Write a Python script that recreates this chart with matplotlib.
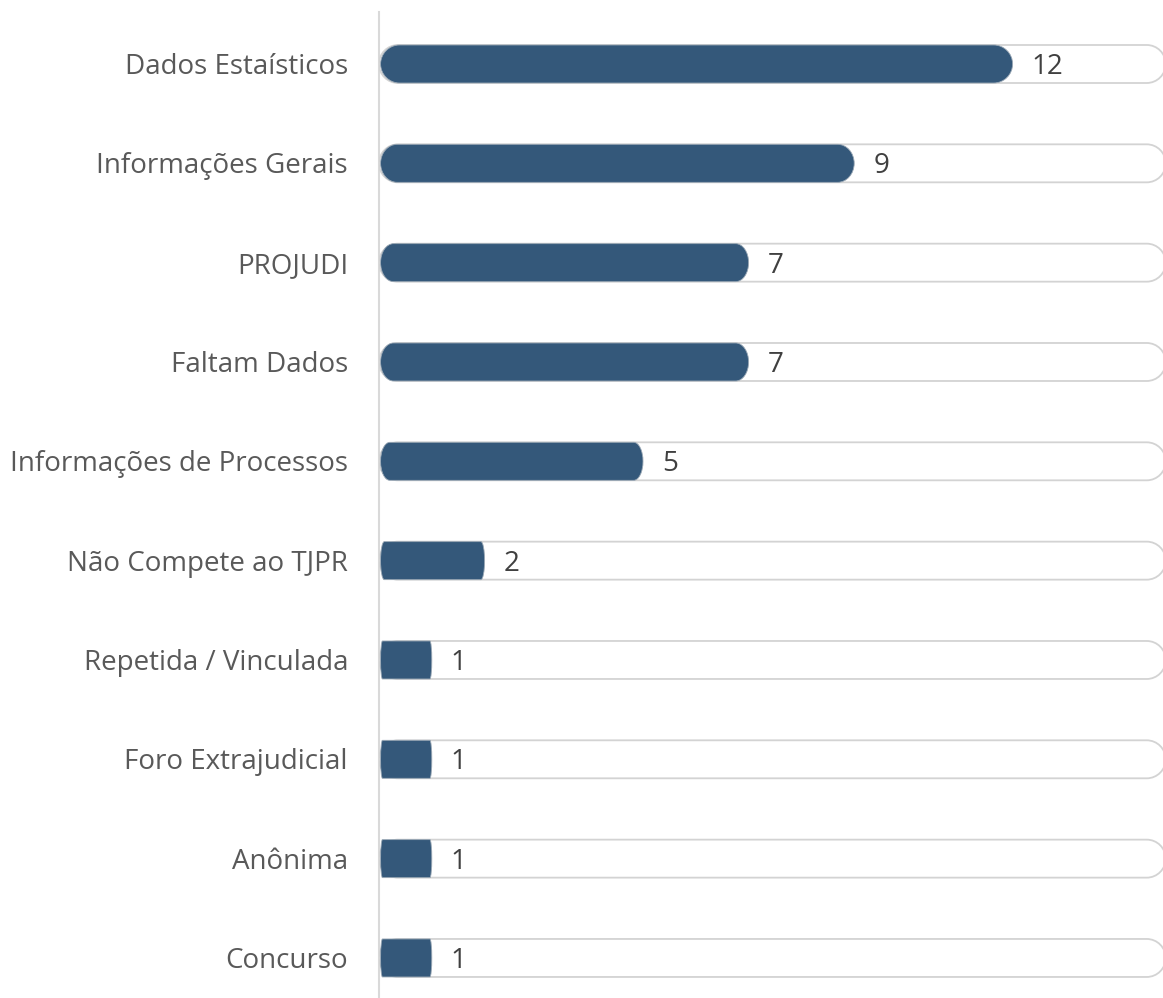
import matplotlib
matplotlib.use("Agg")
import matplotlib.pyplot as plt
from matplotlib.path import Path
from matplotlib.patches import PathPatch

categories = [
    "Dados Estaísticos", "Informações Gerais", "PROJUDI", "Faltam Dados",
    "Informações de Processos", "Não Compete ao TJPR", "Repetida / Vinculada",
    "Foro Extrajudicial", "Anônima", "Concurso",
]
values = [12, 9, 7, 7, 5, 2, 1, 1, 1, 1]
track_end = 14.9

C_BAR = "#34587A"
C_TRACK = "#D3D3D3"
C_LABEL = "#595959"
C_VALUE = "#404040"

plt.rcParams["font.family"] = ["Open Sans", "DejaVu Sans"]


def rounded_rect(x0, y0, w, h, rx, ry):
    k = 0.5523
    x1, y1 = x0 + w, y0 + h
    verts = [
        (x0 + rx, y0), (x1 - rx, y0),
        (x1 - rx + k * rx, y0), (x1, y0 + ry - k * ry), (x1, y0 + ry),
        (x1, y1 - ry),
        (x1, y1 - ry + k * ry), (x1 - rx + k * rx, y1), (x1 - rx, y1),
        (x0 + rx, y1),
        (x0 + rx - k * rx, y1), (x0, y1 - ry + k * ry), (x0, y1 - ry),
        (x0, y0 + ry),
        (x0, y0 + ry - k * ry), (x0 + rx - k * rx, y0), (x0 + rx, y0),
        (x0 + rx, y0),
    ]
    codes = ([Path.MOVETO, Path.LINETO] + [Path.CURVE4] * 3 + [Path.LINETO]
             + [Path.CURVE4] * 3 + [Path.LINETO] + [Path.CURVE4] * 3
             + [Path.LINETO] + [Path.CURVE4] * 3 + [Path.CLOSEPOLY])
    return Path(verts, codes)


fig = plt.figure(figsize=(11.63, 9.98), dpi=100)
ax = fig.add_axes([379 / 1163, 0, 1 - 379 / 1163, 1])

px_per_unit = 52.8
x_right = (1163 - 379) / px_per_unit
ax.set_xlim(0, x_right)
row_px = 99.33
ax.set_ylim((998 - 64) / row_px, -64 / row_px)

h = 38 / row_px
ry = h / 2
dy = 3 / row_px
for i, (cat, v) in enumerate(zip(categories, values)):
    # background track
    track = rounded_rect(0, i - h / 2, track_end, h, 19 / px_per_unit, ry)
    ax.add_patch(PathPatch(track, facecolor="white", edgecolor=C_TRACK, lw=1.3, zorder=1))
    # value bar
    rx = min(0.035 * v, 19 / px_per_unit)
    bar = rounded_rect(0.03, i - h / 2, v - 0.03, h, rx, ry)
    ax.add_patch(PathPatch(bar, facecolor=C_BAR, edgecolor="#9AA8B5", lw=0.6, zorder=2))
    ax.text(v + 19 / px_per_unit, i + dy, str(v), ha="left", va="center",
            fontsize=20, color=C_VALUE, zorder=3)
    ax.text(-31 / px_per_unit, i + dy, cat, ha="right", va="center",
            fontsize=20, color=C_LABEL, clip_on=False)

ax.plot([0, 0], [-52 / row_px, (998 - 64) / row_px], color="#D9D9D9", lw=1.5,
        zorder=0, clip_on=False)

ax.set_axis_off()
fig.savefig("out.png", dpi=100)
